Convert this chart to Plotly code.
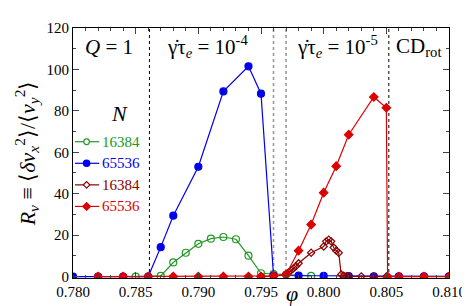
import plotly.graph_objects as go

# ---- data ----
phi_g16 = [0.785, 0.787, 0.788, 0.789, 0.790, 0.791, 0.792, 0.793, 0.794, 0.795, 0.796, 0.797, 0.799]
R_g16 = [0.0, 0.3, 6.8, 11.5, 15.8, 18.3, 19.1, 18.0, 10.1, 1.6, 1.2, 1.0, 0.3]

phi_b65 = [0.780, 0.782, 0.784, 0.786, 0.787, 0.788, 0.790, 0.792, 0.794, 0.795, 0.796,
           0.798, 0.800, 0.802, 0.804, 0.806, 0.808, 0.810]
R_b65 = [0.0, 0.0, 0.0, 0.0, 14.2, 29.4, 53.0, 89.4, 101.5, 88.3, 0.5,
         0.4, 0.3, 0.2, 0.1, 0.1, 0.1, 0.1]

phi_d16 = [0.795, 0.796, 0.797, 0.7972, 0.7974, 0.7976, 0.7978, 0.798, 0.799, 0.800,
           0.8002, 0.8004, 0.8006, 0.8008, 0.801, 0.8012, 0.8014, 0.8016, 0.8018, 0.802,
           0.803, 0.804, 0.805]
R_d16 = [0.0, 0.2, 0.8, 2.0, 3.0, 4.0, 5.0, 6.4, 11.5, 14.5,
         17.0, 17.8, 17.0, 14.0, 12.5, 11.5, 1.0, 0.4, 0.2, 0.1,
         0.1, 0.0, 0.0]

phi_r65 = [0.782, 0.784, 0.786, 0.788, 0.790, 0.792, 0.794, 0.795, 0.796, 0.797, 0.798,
           0.799, 0.800, 0.801, 0.802, 0.804, 0.805, 0.8051, 0.806, 0.808, 0.810]
R_r65 = [0.0, 0.0, 0.0, 0.0, 0.0, 0.0, 0.0, 0.0, 0.3, 1.0, 12.5,
         25.1, 40.5, 53.3, 68.5, 86.7, 81.5, 0.0, 0.0, 0.0, 0.0]

series_names = ["16384", "65536", "16384", "65536"]
boundaries_black = [0.7861, 0.8052]
boundaries_grey = [0.7960, 0.7970]

regime_labels = ["<i>Q</i> = 1", "γ̇τ<sub><i>e</i></sub> = 10<sup>-4</sup>",
                 "γ̇τ<sub><i>e</i></sub> = 10<sup>-5</sup>", "CD<sub>rot</sub>"]
regime_x = [0.7829, 0.7907, 0.8011, 0.8076]

FONT = "Liberation Serif"
c_g, c_b, c_d, c_r = "#229922", "#0000ee", "#8b0000", "#dd0000"

# plot-area geometry (pixels) used only to place the hand-made legend
L, R_, T, B = 65, 452, 15, 270
PW, PH = R_ - L, B - T

fig = go.Figure()

def add(x, y, color, symbol, size):
    fig.add_trace(go.Scatter(
        x=x, y=y, mode="lines+markers", showlegend=False,
        line=dict(color=color, width=1.2),
        marker=dict(color=color, symbol=symbol, size=size,
                    line=dict(color=color, width=1.2)),
    ))

add(phi_g16, R_g16, c_g, "circle-open", 7)
add(phi_b65, R_b65, c_b, "circle", 7)
add(phi_d16, R_d16, c_d, "diamond-open", 5.5)
add(phi_r65, R_r65, c_r, "diamond", 6.5)

shapes = []
for xv in boundaries_black:
    shapes.append(dict(type="line", xref="x", yref="paper", x0=xv, x1=xv, y0=0, y1=1,
                       line=dict(color="black", width=1, dash="dot"), layer="below"))
for xv in boundaries_grey:
    shapes.append(dict(type="line", xref="x", yref="paper", x0=xv, x1=xv, y0=0, y1=1,
                       line=dict(color="#999999", width=1.6, dash="dot"), layer="below"))

annotations = []
for t, xv in zip(regime_labels, regime_x):
    annotations.append(dict(text=t, x=xv, y=0.925, xref="x", yref="paper",
                            showarrow=False, font=dict(family=FONT, size=21, color="black"),
                            xanchor="center", yanchor="middle"))

# ---- hand-made legend (N heading + 4 entries) ----
def px(xp):
    return (xp - L) / PW

def py(yp):
    return (B - yp) / PH

annotations.append(dict(text="<i>N</i>", x=px(113), y=py(102), xref="paper", yref="paper",
                        showarrow=False, font=dict(family=FONT, size=22, color="black"),
                        xanchor="center", yanchor="middle"))
leg_rows = [131, 153, 175, 197]
leg_colors = [c_g, c_b, c_d, c_r]
leg_kinds = ["circle-open", "circle", "diamond-open", "diamond"]
for yrow, name, col, kind in zip(leg_rows, series_names, leg_colors, leg_kinds):
    yy = py(yrow)
    shapes.append(dict(type="line", xref="paper", yref="paper", x0=px(67), x1=px(92),
                       y0=yy, y1=yy, line=dict(color=col, width=1.2)))
    fill = "white" if "open" in kind else col
    if kind.startswith("circle"):
        r = 3.2 if kind == "circle" else 2.8
        shapes.append(dict(type="circle", xref="paper", yref="paper",
                           xsizemode="pixel", ysizemode="pixel",
                           xanchor=px(79), yanchor=yy, x0=-r, x1=r, y0=-r, y1=r,
                           fillcolor=fill, line=dict(color=col, width=1.2)))
    else:
        d = 3.8 if kind == "diamond" else 3.2
        shapes.append(dict(type="path", xref="paper", yref="paper",
                           xsizemode="pixel", ysizemode="pixel",
                           xanchor=px(79), yanchor=yy,
                           path=f"M0,{-d} L{d},0 L0,{d} L{-d},0 Z",
                           fillcolor=fill, line=dict(color=col, width=1.2)))
    annotations.append(dict(text=name, x=px(93), y=yy, xref="paper", yref="paper",
                            showarrow=False, xanchor="left", yanchor="middle",
                            font=dict(family=FONT, size=15, color=col)))

annotations.append(dict(text="<i>φ</i>", x=0.7975, y=py(286), xref="x", yref="paper",
                        showarrow=False, font=dict(family=FONT, size=22, color="black"),
                        xanchor="center", yanchor="middle"))
annotations.append(dict(
    text="<i>R</i><sub><i>v</i></sub> ≡ ⟨<i>δv</i><sub><i>x</i></sub><sup>2</sup>⟩/⟨<i>v</i><sub><i>y</i></sub><sup>2</sup>⟩",
    x=px(17), y=0.5, xref="paper", yref="paper", textangle=-90, showarrow=False,
    font=dict(family=FONT, size=22, color="black"), xanchor="center", yanchor="middle"))

fig.update_layout(
    width=470, height=306,
    margin=dict(l=L, r=470 - R_, t=T, b=306 - B),
    plot_bgcolor="white", paper_bgcolor="white",
    font=dict(family=FONT, size=15, color="black"),
    showlegend=False,
    shapes=shapes, annotations=annotations,
    xaxis=dict(range=[0.780, 0.810], tick0=0.780, dtick=0.005, tickformat=".3f",
               ticks="inside", ticklen=6, showline=True, linecolor="black", linewidth=1,
               mirror="allticks", showgrid=False, zeroline=False,
               minor=dict(dtick=0.001, ticks="inside", ticklen=3, showgrid=False),
               tickfont=dict(family=FONT, size=15)),
    yaxis=dict(range=[-0.7, 120], tick0=0, dtick=20,
               ticks="inside", ticklen=6, showline=True, linecolor="black", linewidth=1,
               mirror="allticks", showgrid=False, zeroline=False,
               minor=dict(dtick=10, ticks="inside", ticklen=3, showgrid=False),
               tickfont=dict(family=FONT, size=15)),
)

fig.write_html("out.html")
